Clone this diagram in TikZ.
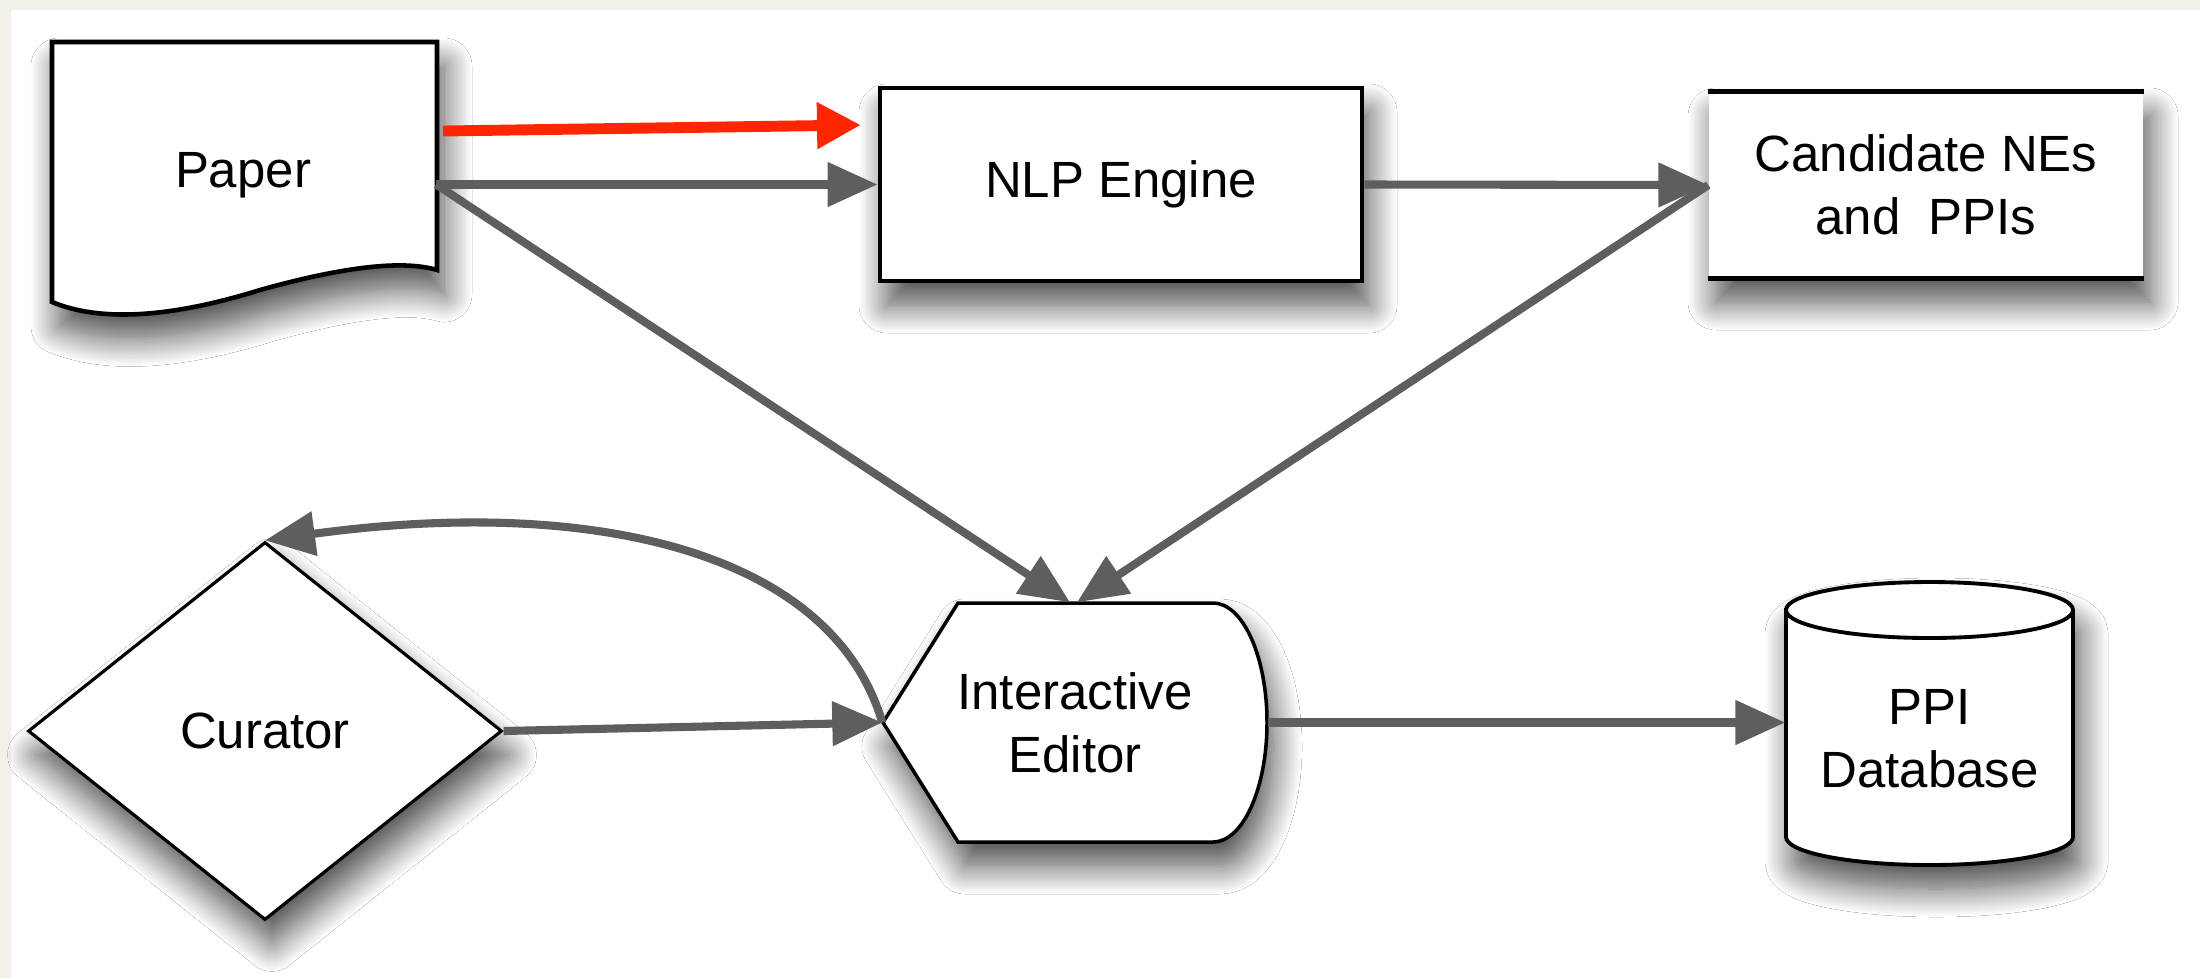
\documentclass[tikz,border=0pt]{standalone}
\usepackage{fontspec}
\setmainfont{Liberation Sans}
\usetikzlibrary{arrows.meta,shapes.geometric,shadows.blur}
\definecolor{flowgray}{HTML}{5E5E5E}
\definecolor{flowred}{HTML}{FF2600}
\definecolor{pagebg}{HTML}{F3F0EA}
\begin{document}
\begin{tikzpicture}[font=\fontsize{14.5}{18}\selectfont,
  soft/.style={blur shadow={shadow xshift=0.7mm,shadow yshift=-2.4mm,shadow blur radius=2.8mm,shadow blur steps=20,shadow opacity=70}},
  box/.style={draw,line width=1.4pt,fill=white,soft},
  flow/.style={draw=flowgray,line width=2.3pt,-{Triangle[length=5mm,width=4.3mm]}},
  redflow/.style={draw=flowred,line width=3.1pt,-{Triangle[length=4.4mm,width=4.4mm]}}]
\useasboundingbox (0,0) rectangle (22,-9.78);
\fill[pagebg] (0,0) rectangle (22,-9.78);
\fill[white] (0.11,-0.10) rectangle (22,-9.78);
\filldraw[fill=white,line width=1.3pt,soft] (0.52,-0.42) -- (4.37,-0.42) -- (4.37,-2.70) .. controls (4.1,-2.62) and (3.6,-2.62) .. (2.6,-2.90) .. controls (1.7,-3.18) and (1.0,-3.22) .. (0.52,-3.02) -- cycle;
\node[minimum width=3.85cm] (paper) at (2.43,-1.75) {Paper};
\node[box,minimum width=4.82cm,minimum height=1.93cm] (nlp) at (11.21,-1.845) {NLP Engine};
\node[fill=white,soft,minimum width=4.34cm,minimum height=1.86cm,align=center] (cand) at (19.26,-1.85) {Candidate NEs\\and~~PPIs};
\draw[line width=1.4pt] (cand.north west) -- (cand.north east) (cand.south west) -- (cand.south east);
\filldraw[fill=white,line width=1pt,soft] (8.83,-7.225) -- (9.58,-6.03) -- (12.13,-6.03) arc[start angle=90,end angle=-90,x radius=0.54,y radius=1.195] -- (9.58,-8.42) -- cycle;
\node[minimum width=3.84cm,minimum height=2.39cm,align=center] (editor) at (10.75,-7.225) {Interactive\\Editor};
\node[diamond,draw,line width=0.9pt,fill=white,soft,minimum width=4.74cm,minimum height=3.78cm,inner sep=0pt] (curator) at (2.65,-7.31) {Curator};
\filldraw[fill=white,line width=1.1pt,soft] (17.86,-6.10) -- (17.86,-8.37) arc[start angle=180,end angle=360,x radius=1.435,y radius=0.28] -- (20.73,-6.10) arc[start angle=0,end angle=180,x radius=1.435,y radius=0.28] -- cycle;
\draw[line width=1.1pt] (17.86,-6.10) arc[start angle=180,end angle=360,x radius=1.435,y radius=0.28];
\node[minimum width=2.87cm,align=center] (db) at (19.295,-7.39) {PPI\\Database};
\coordinate (redtail) at (4.43,-1.31);
\coordinate (redtip) at (8.61,-1.25);
\draw[flow] (paper.east |- nlp.west) -- (nlp.west);
\draw[flow] (nlp.east) -- (cand.west);
\draw[flow] (paper.east |- nlp.west) -- ([xshift=-0.5mm]editor.north);
\draw[flow] (cand.west) -- ([xshift=0.2mm]editor.north);
\draw[flow] (curator.east) -- (editor.west);
\draw[flow] (editor.west) .. controls +(-0.5,1.7) and +(3.30,0.45) .. (curator.north);
\draw[flow] (editor.east) -- (editor.east -| db.west);
\draw[redflow] (redtail) -- (redtip);
\end{tikzpicture}
\end{document}
